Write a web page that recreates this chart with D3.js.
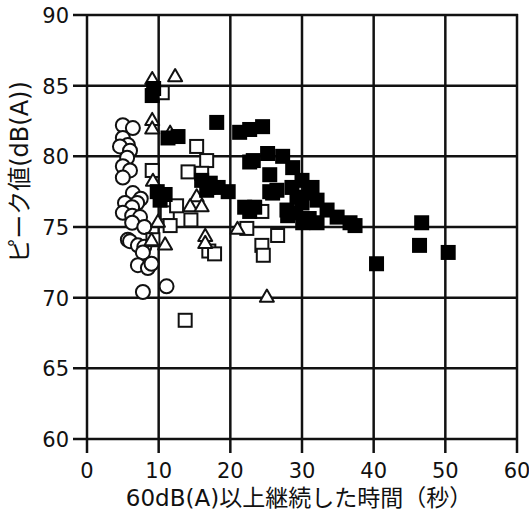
<!DOCTYPE html>
<html>
<head>
<meta charset="utf-8">
<script src="https://cdn.jsdelivr.net/npm/d3@7"></script>
<style>
body { margin: 0; background: #fff; }
text { font-family: "DejaVu Sans", "Noto Sans CJK JP", sans-serif; fill: #111; }
</style>
</head>
<body>
<div id="chart"></div>
<script>
var width = 529, height = 517;

var xTicks = [0, 10, 20, 30, 40, 50, 60];
var yTicks = [60, 65, 70, 75, 80, 85, 90];
var xLabel = "60dB(A)以上継続した時間（秒）";
var yLabel = "ピーク値(dB(A))";

// open circles
var circles = [[5.0,82.2],[6.4,82.0],[5.0,81.3],[5.7,80.8],[4.6,80.7],[6.0,80.4],[5.6,79.9],[5.0,79.3],
  [6.0,79.0],[5.0,78.5],[6.4,77.4],[7.5,77.0],[5.3,76.7],[7.0,76.7],[6.3,76.4],[5.0,76.0],[6.3,75.8],
  [7.4,75.7],[6.3,75.3],[8.0,75.0],[5.7,74.1],[6.0,74.0],[7.1,73.7],[8.0,73.6],[7.8,73.2],[7.1,72.3],
  [8.5,72.1],[9.0,72.4],[7.8,70.4],[11.1,70.8]];
// open triangles
var triangles = [[9.1,85.4],[12.3,85.6],[9.1,82.5],[9.1,81.9],[11.6,81.6],[9.2,78.2],[15.3,77.1],
  [14.4,76.4],[16.0,76.4],[9.9,75.3],[10.9,73.7],[9.0,74.0],[16.5,74.3],[16.5,73.8],[21.0,74.8],[25.1,70.0]];
// open squares
var openSquares = [[10.5,84.5],[9.1,79.0],[15.3,80.7],[16.7,79.7],[14.1,78.9],[16.0,78.8],[11.2,76.0],
  [11.6,75.1],[12.5,76.5],[9.2,74.1],[17.0,73.3],[17.8,73.1],[13.7,68.4],[22.3,74.9],[24.4,76.1],
  [26.6,74.4],[24.4,73.7],[24.6,73.0],[14.5,75.5]];
// filled squares
var filledSquares = [[9.1,84.3],[9.3,84.8],[11.3,81.3],[12.7,81.4],[18.1,82.4],[21.3,81.7],[22.7,81.9],
  [24.5,82.1],[22.7,79.6],[23.2,79.7],[25.2,80.2],[27.3,80.0],[28.7,79.2],[25.5,78.7],[9.8,77.5],
  [10.9,77.3],[10.2,76.9],[16.0,78.3],[16.9,77.8],[17.2,78.1],[16.7,77.6],[18.3,77.8],[19.7,77.5],
  [22.0,76.4],[22.7,76.1],[23.4,76.4],[25.9,77.4],[25.5,77.5],[26.5,77.6],[28.6,77.8],[30.0,78.3],
  [31.4,77.8],[31.1,77.4],[29.3,77.1],[30.0,76.7],[32.1,76.9],[27.9,76.2],[33.5,76.2],[34.9,75.7],
  [36.7,75.3],[30.1,75.3],[32.1,75.3],[31.0,75.6],[37.4,75.1],[40.4,72.4],[46.7,75.3],[46.4,73.7],
  [50.4,73.2],[28.0,75.8],[29.0,76.0]];

var svg = d3.select("#chart").append("svg")
    .attr("width", width)
    .attr("height", height);

var x = d3.scaleLinear().domain([0, 60]).range([87, 517]);
var y = d3.scaleLinear().domain([60, 90]).range([439, 15]);

// grid
svg.append("g").selectAll("line.gx")
    .data(xTicks).enter().append("line")
    .attr("x1", function(d){return x(d)}).attr("x2", function(d){return x(d)})
    .attr("y1", y(90) - 1).attr("y2", y(60) + 14)
    .attr("stroke", "#111").attr("stroke-width", 2.5);
svg.append("g").selectAll("line.gy")
    .data(yTicks).enter().append("line")
    .attr("y1", function(d){return y(d)}).attr("y2", function(d){return y(d)})
    .attr("x1", x(0) - 14).attr("x2", x(60) + 1)
    .attr("stroke", "#111").attr("stroke-width", 2.5);

// tick labels
svg.append("g").selectAll("text")
    .data(xTicks).enter().append("text")
    .attr("x", function(d){return x(d)})
    .attr("y", 478)
    .attr("text-anchor", "middle")
    .attr("font-size", 21)
    .text(function(d){return d});
svg.append("g").selectAll("text")
    .data(yTicks).enter().append("text")
    .attr("x", 69)
    .attr("y", function(d){return y(d) + 8})
    .attr("text-anchor", "end")
    .attr("font-size", 21)
    .text(function(d){return d});

// axis titles
svg.append("text")
    .attr("x", 299).attr("y", 506)
    .attr("text-anchor", "middle")
    .attr("font-size", 23)
    .attr("font-family", "'Noto Sans CJK JP', sans-serif")
    .text(xLabel);
svg.append("text")
    .attr("transform", "translate(28,172) rotate(-90)")
    .attr("text-anchor", "middle")
    .attr("font-size", 24)
    .attr("font-family", "'Noto Sans CJK JP', sans-serif")
    .text(yLabel);

var marks = svg.append("g");

// circles
marks.selectAll("circle")
    .data(circles).enter().append("circle")
    .attr("cx", function(d){return x(d[0])})
    .attr("cy", function(d){return y(d[1])})
    .attr("r", 7)
    .attr("fill", "#fff").attr("stroke", "#111").attr("stroke-width", 2);

// open squares
marks.selectAll("rect.open")
    .data(openSquares).enter().append("rect")
    .attr("class", "open")
    .attr("x", function(d){return x(d[0]) - 6.5})
    .attr("y", function(d){return y(d[1]) - 6.5})
    .attr("width", 13).attr("height", 13)
    .attr("fill", "#fff").attr("stroke", "#111").attr("stroke-width", 2);

// triangles
var tri = d3.symbol().type(d3.symbolTriangle).size(85);
marks.selectAll("path.tri")
    .data(triangles).enter().append("path")
    .attr("class", "tri")
    .attr("d", tri)
    .attr("transform", function(d){return "translate(" + x(d[0]) + "," + y(d[1]) + ")"})
    .attr("fill", "#fff").attr("stroke", "#111").attr("stroke-width", 2)
    .attr("stroke-linejoin", "round");

// filled squares
marks.selectAll("rect.filled")
    .data(filledSquares).enter().append("rect")
    .attr("class", "filled")
    .attr("x", function(d){return x(d[0]) - 7.5})
    .attr("y", function(d){return y(d[1]) - 7.5})
    .attr("width", 15).attr("height", 15)
    .attr("fill", "#000");
</script>
</body>
</html>
